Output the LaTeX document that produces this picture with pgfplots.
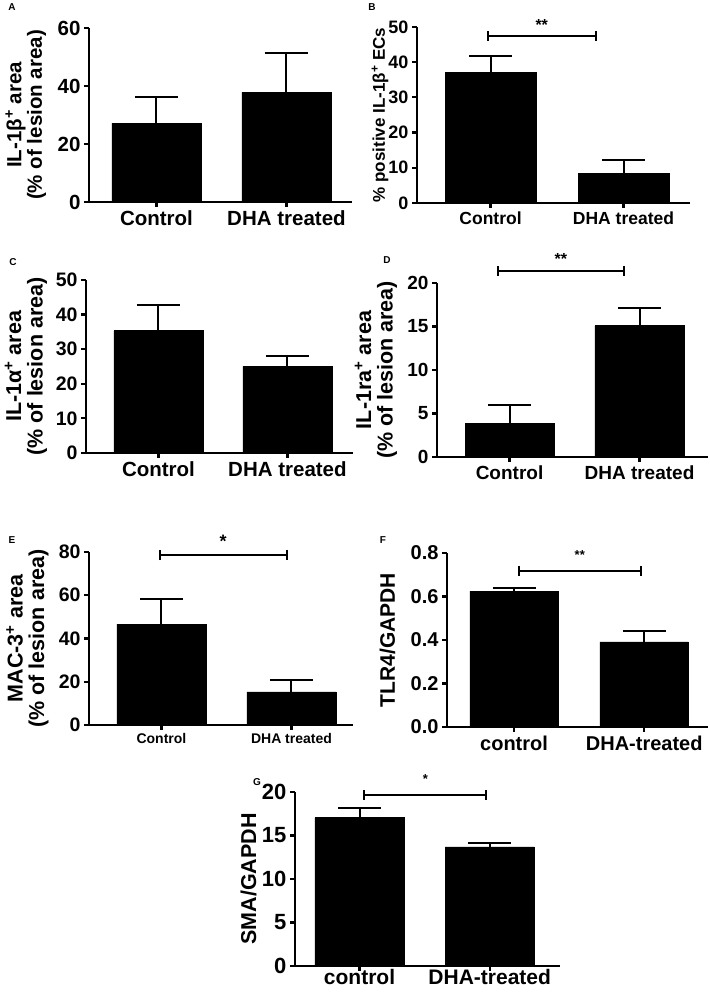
\documentclass[border=0pt]{standalone}
\usepackage{fontspec}
\setmainfont{Liberation Sans}
\usepackage{pgfplots}
\pgfplotsset{compat=1.18}
\usetikzlibrary{arrows.meta}
\newcommand{\fs}[1]{\bfseries\fontsize{#1}{#1}\selectfont}
\tikzset{sig/.style={line width=2pt, {Bar[width=10pt]}-{Bar[width=10pt]}}}
\pgfplotsset{
  panel/.style={
    scale only axis, anchor=south west,
    axis x line*=bottom, axis y line*=left,
    axis line style={-, line width=2.2pt},
    ymin=0, xtick={0,1},
    tick align=outside, major tick length=5pt,
    every tick/.style={black, line width=2.2pt},
    /pgf/number format/assume math mode=true,
    ybar, clip=false,
    ylabel style={align=center, rotate=0, anchor=center},
  },
  barstyle/.style={fill=black, draw=black,
    error bars/.cd, y dir=plus, y explicit, error mark=|,
    error bar style={line width=2pt, black},
    error mark options={line width=2pt, black, mark size=21.5pt}},
}
\begin{document}
\begin{tikzpicture}
\useasboundingbox (0,0) rectangle (709pt,992pt);
% ---------- A ----------
\begin{axis}[panel, at={(89pt,790pt)}, width=263pt, height=174pt,
  ymax=60, ytick={0,20,40,60}, xmin=-0.519, xmax=1.504, bar width=0.685,
  xticklabels={Control,DHA treated},
  tick label style={font=\fs{20.5}},
  ylabel={IL-1β\textsuperscript{+} area\\(\% of lesion area)},
  ylabel style={font=\fs{20.5}, at={(axis description cs:-0.240,0.5)}}]
\addplot[barstyle] coordinates {(0,27.2) +- (0,9.0) (1,37.9) +- (0,13.5)};
\end{axis}
% ---------- B ----------
\begin{axis}[panel, at={(417pt,789pt)}, width=273pt, height=176pt,
  ymax=50, ytick={0,10,20,30,40,50}, xmin=-0.553, xmax=1.5, bar width=0.684,
  xticklabels={Control,DHA treated},
  yticklabel style={font=\fs{18}}, xticklabel style={font=\fs{17.5}},
  ylabel={\% positive IL-1β\textsuperscript{+} ECs},
  ylabel style={font=\fs{17}, at={(axis description cs:-0.1355,0.5)}}]
\addplot[barstyle] coordinates {(0,37.2) +- (0,4.6) (1,8.5) +- (0,3.7)};
\draw[sig] (axis cs:-0.03,47.4) -- (axis cs:0.80,47.4);
\node[font=\fs{16}] at (axis cs:0.385,50.5) {**};
\end{axis}
% ---------- C ----------
\begin{axis}[panel, at={(86pt,539pt)}, width=267pt, height=173pt,
  ymax=50, ytick={0,10,20,30,40,50}, xmin=-0.562, xmax=1.508, bar width=0.69,
  xticklabels={Control,DHA treated},
  yticklabel style={font=\fs{19.5}}, xticklabel style={font=\fs{20.5}},
  ylabel={IL-1α\textsuperscript{+} area\\(\% of lesion area)},
  ylabel style={font=\fs{21.5}, at={(axis description cs:-0.225,0.5)}}]
\addplot[barstyle] coordinates {(0,35.4) +- (0,7.3) (1,25.0) +- (0,3.1)};
\end{axis}
% ---------- D ----------
\begin{axis}[panel, at={(437pt,535pt)}, width=271pt, height=174pt,
  ymax=20, ytick={0,5,10,15,20}, xmin=-0.558, xmax=1.527, bar width=0.685,
  xticklabels={Control,DHA treated},
  yticklabel style={font=\fs{19}}, xticklabel style={font=\fs{19}},
  ylabel={IL-1ra\textsuperscript{+} area\\(\% of lesion area)},
  ylabel style={font=\fs{21.5}, at={(axis description cs:-0.225,0.5)}}]
\addplot[barstyle] coordinates {(0,3.9) +- (0,2.1) (1,15.1) +- (0,2.0)};
\draw[sig] (axis cs:-0.1,21.4) -- (axis cs:0.89,21.4);
\node[font=\fs{16}] at (axis cs:0.395,22.8) {**};
\end{axis}
% ---------- E ----------
\begin{axis}[panel, at={(89pt,267pt)}, width=264pt, height=173pt,
  ymax=80, ytick={0,20,40,60,80}, xmin=-0.557, xmax=1.473, bar width=0.685,
  xticklabels={Control,DHA treated},
  yticklabel style={font=\fs{19.5}}, xticklabel style={font=\fs{14}},
  ylabel={MAC-3\textsuperscript{+} area\\(\% of lesion area)},
  ylabel style={font=\fs{21.5}, at={(axis description cs:-0.233,0.5)}}]
\addplot[barstyle] coordinates {(0,46.7) +- (0,11.6) (1,15.3) +- (0,5.5)};
\draw[sig] (axis cs:-0.02,78.6) -- (axis cs:0.97,78.6);
\node[font=\fs{18}] at (axis cs:0.475,85) {*};
\end{axis}
% ---------- F ----------
\begin{axis}[panel, at={(447pt,265pt)}, width=261pt, height=174pt,
  ymax=0.8, ytick={0,0.2,0.4,0.6,0.8}, xmin=-0.515, xmax=1.49, bar width=0.68,
  yticklabel style={font=\fs{20}, /pgf/number format/.cd, fixed, fixed zerofill, precision=1},
  xticklabels={control,DHA-treated},
  xticklabel style={font=\fs{20}},
  ylabel={TLR4/GAPDH},
  ylabel style={font=\fs{21}, at={(axis description cs:-0.228,0.5)}}]
\addplot[barstyle] coordinates {(0,0.625) +- (0,0.014) (1,0.391) +- (0,0.05)};
\draw[sig] (axis cs:0.03,0.717) -- (axis cs:0.98,0.717);
\node[font=\fs{13}] at (axis cs:0.505,0.79) {**};
\end{axis}
% ---------- G ----------
\begin{axis}[panel, at={(295pt,26pt)}, width=265pt, height=174pt,
  ymax=20, ytick={0,5,10,15,20}, xmin=-0.496, xmax=1.54, bar width=0.685,
  xticklabels={control,DHA-treated},
  yticklabel style={font=\fs{22}}, xticklabel style={font=\fs{21}, yshift=5pt},
  ylabel={SMA/GAPDH},
  ylabel style={font=\fs{21.5}, at={(axis description cs:-0.175,0.5)}}]
\addplot[barstyle] coordinates {(0,17.06) +- (0,1.08) (1,13.69) +- (0,0.5)};
\draw[sig] (axis cs:0.03,19.65) -- (axis cs:0.98,19.65);
\node[font=\fs{13}] at (axis cs:0.505,21.5) {*};
\end{axis}
% panel letters
\node[font=\fs{10}] at (12pt,985pt) {A};
\node[font=\fs{10}] at (372pt,985pt) {B};
\node[font=\fs{10}] at (13pt,730pt) {C};
\node[font=\fs{10}] at (387pt,732pt) {D};
\node[font=\fs{10}] at (12pt,452pt) {E};
\node[font=\fs{10}] at (383pt,452pt) {F};
\node[font=\fs{10}] at (257pt,210pt) {G};
\end{tikzpicture}
\end{document}
